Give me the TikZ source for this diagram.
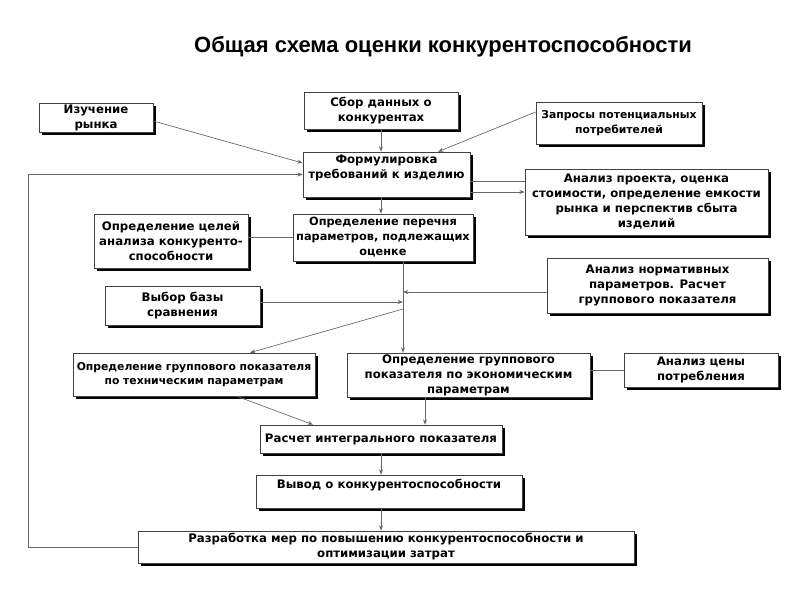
\documentclass[tikz,border=0pt]{standalone}
\usepackage{fontspec}
\setmainfont{DejaVu Sans}
\newfontfamily\titlefont{Liberation Sans}
\usetikzlibrary{shadows,arrows.meta,calc}
\begin{document}
\begin{tikzpicture}[x=0.75pt,y=-0.75pt,
  box/.style={draw=black!75, line width=0.5pt, fill=white, inner sep=0pt, align=center,
    font=\fontsize{8.8}{11.25}\selectfont\bfseries,
    drop shadow={shadow xshift=2.6pt, shadow yshift=-2.6pt, opacity=1, fill=black}},
  small/.style={font=\fontsize{8.1}{11}\selectfont\bfseries},
  sz/.style 2 args={minimum width={#1*0.75pt}, minimum height={#2*0.75pt}},
  conn/.style={draw=black!60, line width=0.5pt},
  arr/.style={conn, -{Stealth[length=4pt,width=3pt]}}]
\useasboundingbox (0,0) rectangle (800,600);
\node[font=\titlefont\fontsize{16.5}{19}\selectfont\bfseries] (title) at (443,47) {Общая схема оценки конкурентоспособности};

\node[box, sz={114}{29}] (b1) at (96,117.5) {Изучение\\рынка};
\node[box, sz={154}{37}] (b2) at (381,110.5) {Сбор данных о\\конкурентах};
\node[box, sz={167}{45}] (b3) at (386.5,174.5) {Формулировка\\требований к изделию\\\mbox{}};
\node[box, small, sz={166}{42}] (b4) at (619,123) {Запросы потенциальных\\потребителей};
\node[box, sz={243}{66}] (b5) at (646.5,202) {Анализ проекта, оценка\\стоимости, определение емкости\\рынка и перспектив сбыта\\изделий};
\node[box, sz={154}{54}] (b6) at (171,241) {Определение целей\\анализа конкуренто-\\способности};
\node[box, font=\fontsize{8.5}{11.25}\selectfont\bfseries, sz={180}{47}] (b7) at (383,237.5) {Определение перечня\\параметров, подлежащих\\оценке};
\node[box, sz={155}{39}] (b8) at (182.5,305.5) {Выбор базы\\сравнения};
\node[box, sz={221}{55}] (b9) at (657.5,285.5) {Анализ нормативных\\параметров. Расчет\\группового показателя};
\node[box, sz={154}{34}] (b10) at (701,370) {Анализ цены\\потребления};
\node[box, small, sz={242}{43}] (b11) at (194,374.5) {Определение группового показателя\\по техническим параметрам};
\node[box, sz={243}{44}] (b12) at (468.5,375) {Определение группового\\показателя по экономическим\\параметрам};
\node[box, sz={242}{28}] (b13) at (381,439) {Расчет интегрального показателя};
\node[box, sz={266}{33}] (b14) at (389,491.5) {Вывод о конкурентоспособности\\\mbox{}};
\node[box, sz={496}{32}] (b15) at (386,547) {Разработка мер по повышению конкурентоспособности и\\оптимизации затрат};

\coordinate (vx) at (403,0);
\coordinate (j1) at (403,292);
\coordinate (j2) at (403,302);
\coordinate (j3) at (403,309);
\coordinate (vx2) at (425,0);
\coordinate (fb) at (28,547);
\coordinate (h1) at (0,181);
\coordinate (h2) at (0,192);

\draw[arr] ($(b1.east)+(0,3.5)$) -- ($(b3.west)+(0,-11.5)$);
\draw[arr] (b2.south) -- (b2.south |- b3.north);
\draw[arr] ($(b4.west)+(0,-11)$) -- ($(b3.north)+(51.5,0)$);
\draw[arr] (b15.west) -- (fb) |- (b3.west);
\draw[conn] (b3.east |- h1) -- (b5.west |- h1);
\draw[arr] (b3.east |- h2) -- (b5.west |- h2);
\draw[arr] (b3.south -| b2.south) -- (b2.south |- b7.north);
\draw[conn] (b6.east |- b7.west) -- (b7.west);
\draw[arr] (b7.south -| vx) -- (b12.north -| vx);
\draw[arr] (b9.west |- j1) -- (j1);
\draw[arr] (b8.east |- j2) -- (j2);
\draw[arr] (j3) -- ($(b11.north)+(56,0)$);
\draw[arr] ($(b11.south)+(43,0)$) -- ($(b13.north)+(-68,0)$);
\draw[arr] (b12.south -| vx2) -- (b13.north -| vx2);
\draw[conn] (b10.west) -- (b10.west -| b12.east);
\draw[arr] (b13.south) -- (b13.south |- b14.north);
\draw[arr] (b14.south -| b13.south) -- (b13.south |- b15.north);
\end{tikzpicture}
\end{document}
